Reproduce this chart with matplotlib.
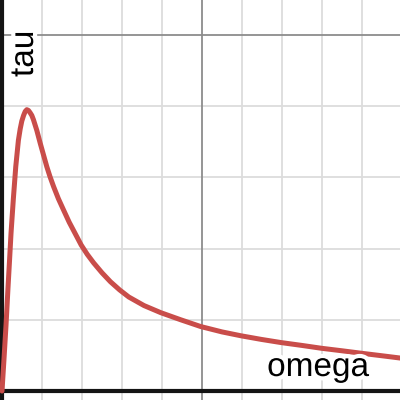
import matplotlib
matplotlib.use("Agg")
import matplotlib.pyplot as plt
import matplotlib.patheffects as pe

# Curve values (omega, tau)
omega = [0.0, 0.05, 0.10, 0.15, 0.19, 0.226, 0.284, 0.344, 0.41, 0.455, 0.495,
         0.54, 0.58, 0.62, 0.66, 0.70, 0.745, 0.786, 0.87, 0.955, 1.04, 1.12,
         1.20, 1.29, 1.41, 1.54, 1.68, 1.83, 1.98, 2.13, 2.29, 2.50, 2.71,
         2.94, 3.17, 3.55, 3.97, 4.47, 4.97, 5.50, 5.98, 6.48, 6.98, 7.50,
         7.99, 8.50, 8.99, 9.50, 10.0]
tau = [0.0, 0.45, 0.92, 1.45, 1.85, 2.22, 2.70, 3.15, 3.52, 3.68, 3.79,
       3.87, 3.925, 3.95, 3.94, 3.91, 3.87, 3.81, 3.66, 3.48, 3.31, 3.15,
       3.01, 2.87, 2.70, 2.54, 2.37, 2.21, 2.05, 1.92, 1.80, 1.66, 1.535,
       1.42, 1.32, 1.20, 1.10, 1.00, 0.905, 0.83, 0.775, 0.725, 0.68, 0.64,
       0.60, 0.565, 0.53, 0.495, 0.46]

minor_x = [1, 2, 3, 4, 6, 7, 8, 9]
minor_y = [1, 2, 3, 4]
major_x = [5]
major_y = [5]
x_label = "omega"
y_label = "tau"

fig = plt.figure(figsize=(4, 4), dpi=100)
ax = fig.add_axes([0, 0, 1, 1])
ax.set_xlim(-0.05, 9.95)
ax.set_ylim(-0.126, 5.49)
ax.axis("off")

for v in minor_x:
    ax.axvline(v, color="#dcdcdc", lw=1.3, zorder=1)
for v in minor_y:
    ax.axhline(v, color="#dcdcdc", lw=1.3, zorder=1)
for v in major_x:
    ax.axvline(v, color="#8c8c8c", lw=1.3, zorder=1)
for v in major_y:
    ax.axhline(v, color="#8c8c8c", lw=1.3, zorder=1)

ax.axvline(0, color="#141414", lw=3.0, zorder=2)
ax.axhline(0, color="#141414", lw=3.0, zorder=2)

ax.plot(omega, tau, color="#c94d4a", lw=3.6, solid_capstyle="round",
        solid_joinstyle="round", zorder=4)

halo = [pe.withStroke(linewidth=6, foreground="white")]
fig.text(369 / 400, 1 - 376 / 400, x_label, ha="right", va="baseline",
         fontsize=24, family="Liberation Sans", color="black",
         path_effects=halo, zorder=5)
fig.text(33 / 400, 1 - 77 / 400, y_label, ha="left", va="baseline",
         rotation=90, rotation_mode="anchor", fontsize=24,
         family="Liberation Sans", color="black", path_effects=halo, zorder=5)

fig.savefig("out.png", dpi=100)
